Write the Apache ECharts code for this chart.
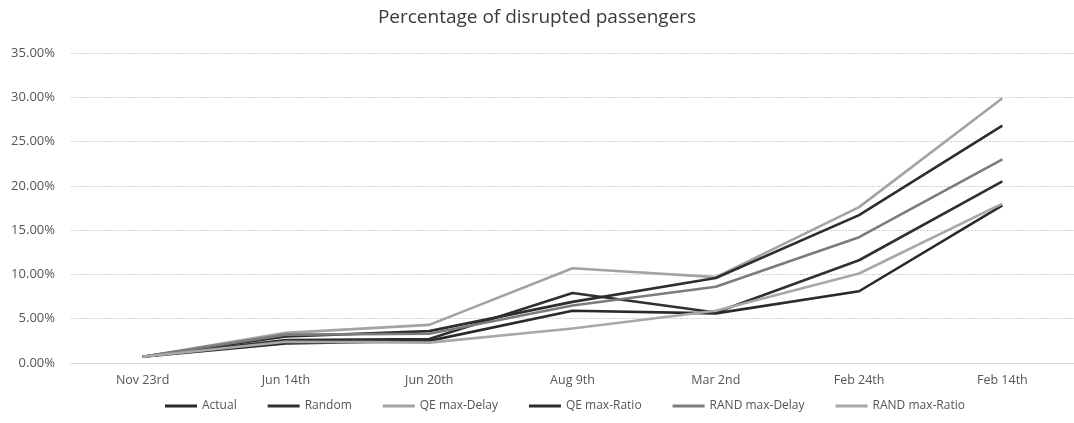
<!DOCTYPE html>
<html>
<head>
<meta charset="utf-8">
<script src="https://cdn.jsdelivr.net/npm/echarts@6/dist/echarts.min.js"></script>
<style>
  html, body { margin: 0; padding: 0; background: #fff; }
  #chart { width: 1074px; height: 423px; }
</style>
</head>
<body>
<div id="chart"></div>
<script>
// Snapshot dates along the x-axis
const categories = ['Nov 23rd', 'Jun 14th', 'Jun 20th', 'Aug 9th', 'Mar 2nd', 'Feb 24th', 'Feb 14th'];

// Share of disrupted passengers (%) per strategy
const actual       = [0.7, 2.2, 2.5, 5.9, 5.6, 8.1, 17.8];
const random       = [0.7, 2.6, 2.7, 7.9, 5.7, 11.6, 20.5];
const qeMaxDelay   = [0.7, 3.4, 4.3, 10.7, 9.7, 17.6, 29.9];
const qeMaxRatio   = [0.7, 3.0, 3.6, 6.9, 9.6, 16.7, 26.8];
const randMaxDelay = [0.7, 3.2, 3.3, 6.5, 8.6, 14.2, 23.0];
const randMaxRatio = [0.7, 2.4, 2.3, 3.9, 5.9, 10.1, 18.0];

// y-axis ticks
const yTicks = [0, 5, 10, 15, 20, 25, 30, 35];

const seriesDefs = [
  { name: 'Actual',         data: actual,       color: '#2a2a2a' },
  { name: 'Random',         data: random,       color: '#303030' },
  { name: 'QE max-Delay',   data: qeMaxDelay,   color: '#a3a3a3' },
  { name: 'QE max-Ratio',   data: qeMaxRatio,   color: '#2e2e2e' },
  { name: 'RAND max-Delay', data: randMaxDelay, color: '#7c7c7c' },
  { name: 'RAND max-Ratio', data: randMaxRatio, color: '#a8a8a8' }
];

const font = '"Open Sans", "Noto Sans", sans-serif';
const chart = echarts.init(document.getElementById('chart'), null, { renderer: 'canvas' });

chart.setOption({
  animation: false,
  backgroundColor: '#ffffff',
  title: {
    text: 'Percentage of disrupted passengers',
    left: 'center',
    top: 3,
    textStyle: { fontFamily: font, fontSize: 19, fontWeight: 'normal', color: '#3a3a3a' }
  },
  legend: {
    bottom: 6,
    left: 160,
    itemWidth: 32,
    itemHeight: 3,
    itemGap: 31,
    icon: 'rect',
    textStyle: { fontFamily: font, fontSize: 12, color: '#555' },
    data: seriesDefs.map(s => s.name)
  },
  grid: { left: 71, right: -14, top: 53, bottom: 60, containLabel: false },
  xAxis: {
    type: 'category',
    data: categories,
    boundaryGap: true,
    axisLine: { show: true, lineStyle: { color: '#d9d9d9', width: 1 } },
    axisTick: { show: false },
    axisLabel: { fontFamily: font, fontSize: 12.5, color: '#555', margin: 11 }
  },
  yAxis: {
    type: 'value',
    min: yTicks[0],
    max: yTicks[yTicks.length - 1],
    interval: yTicks[1] - yTicks[0],
    axisLine: { show: false },
    axisTick: { show: false },
    axisLabel: {
      fontFamily: font, fontSize: 13, color: '#555', margin: 16,
      formatter: v => v.toFixed(2) + '%'
    },
    splitLine: { lineStyle: { color: '#d4d4d4', type: [2, 1], width: 1 } }
  },
  series: seriesDefs.map(s => ({
    name: s.name,
    type: 'line',
    data: s.data,
    symbol: 'none',
    lineStyle: { color: s.color, width: 2.6 },
    itemStyle: { color: s.color }
  }))
});
</script>
</body>
</html>
